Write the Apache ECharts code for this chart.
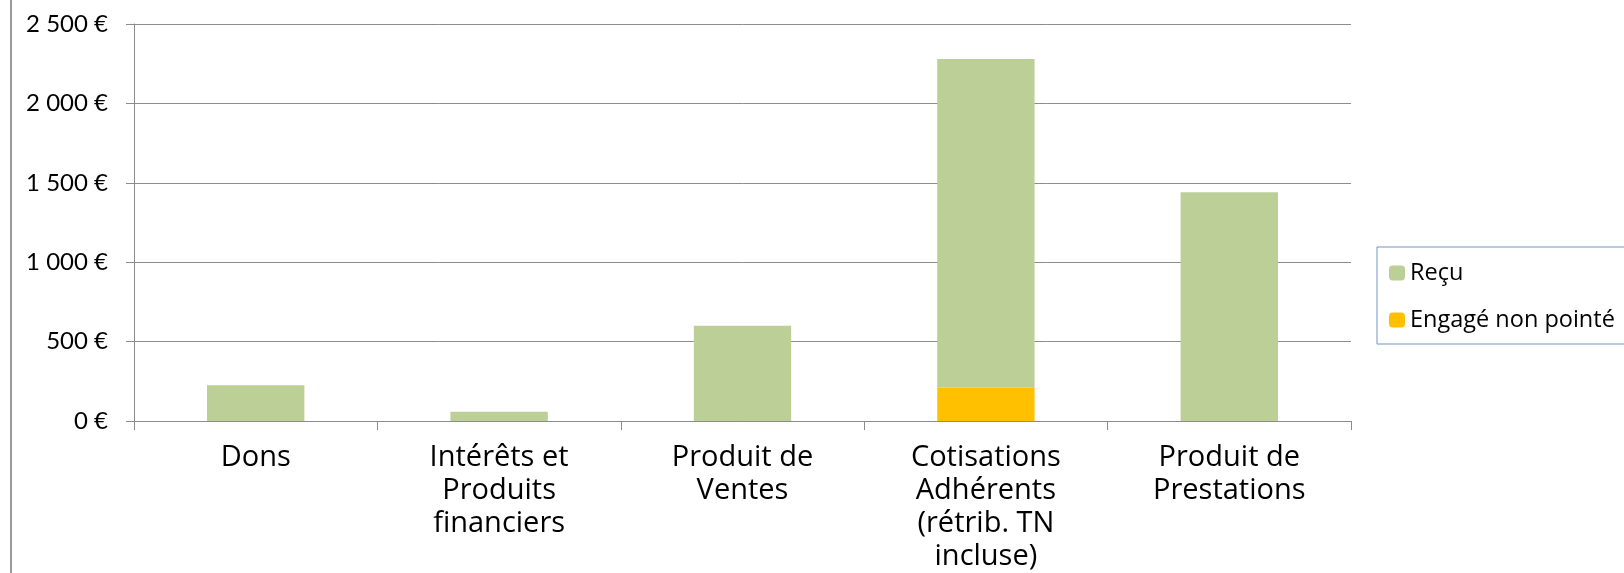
<!DOCTYPE html>
<html>
<head>
<meta charset="utf-8">
<script src="https://cdn.jsdelivr.net/npm/echarts@6/dist/echarts.min.js"></script>
<style>
    html, body { margin: 0; padding: 0; background: #fff; }
    #chart { width: 1624px; height: 573px; }
</style>
</head>
<body>
<div id="chart"></div>
<script>
var categories = [
    'Dons',
    'Intérêts et\nProduits\nfinanciers',
    'Produit de\nVentes',
    'Cotisations\nAdhérents\n(rétrib. TN\nincluse)',
    'Produit de\nPrestations'
];
var engageValues = [0, 0, 0, 210, 0];
var recuValues = [225, 58, 600, 2070, 1440];

var fontName = 'Lato';
var wideFont = 'Open Sans';

function euro(v) {
    return String(v).replace(/\B(?=(\d{3})+(?!\d))/g, ' ') + ' €';
}

var chart = echarts.init(document.getElementById('chart'));

var option = {
    backgroundColor: '#ffffff',
    animation: false,
    textStyle: {
        fontFamily: fontName
    },
    legend: {
        orient: 'vertical',
        left: 1377,
        top: 247,
        padding: [14, 40, 12, 12],
        itemGap: 23,
        itemWidth: 16,
        itemHeight: 15,
        borderColor: '#7094cc',
        borderWidth: 1,
        data: ['Reçu', 'Engagé non pointé'],
        textStyle: {
            color: '#000',
            fontSize: 23.5,
            fontFamily: wideFont,
            padding: [0, 0, 0, 0]
        }
    },
    grid: {
        left: 134,
        right: 273,
        top: 24,
        bottom: 150
    },
    xAxis: {
        type: 'category',
        data: categories,
        axisLine: {
            lineStyle: { color: '#8c8c8c', width: 1 }
        },
        axisTick: {
            show: true,
            length: 9,
            lineStyle: { color: '#8c8c8c' }
        },
        axisLabel: {
            interval: 0,
            margin: 20,
            color: '#000',
            fontSize: 29,
            lineHeight: 33,
            fontFamily: wideFont
        }
    },
    yAxis: {
        type: 'value',
        min: 0,
        max: 2500,
        interval: 500,
        axisLine: {
            show: true,
            lineStyle: { color: '#8c8c8c', width: 1 }
        },
        axisTick: {
            show: true,
            length: 8,
            lineStyle: { color: '#8c8c8c' }
        },
        splitLine: {
            lineStyle: { color: '#8c8c8c', width: 1 }
        },
        axisLabel: {
            margin: 26,
            color: '#000',
            fontSize: 24,
            fontFamily: fontName,
            formatter: euro
        }
    },
    series: [
        {
            name: 'Engagé non pointé',
            type: 'bar',
            stack: 'total',
            barWidth: '40%',
            data: engageValues,
            itemStyle: { color: '#ffc000' }
        },
        {
            name: 'Reçu',
            type: 'bar',
            stack: 'total',
            barWidth: '40%',
            data: recuValues,
            itemStyle: { color: '#bbcf97' }
        }
    ],
    graphic: [
        {
            type: 'line',
            shape: { x1: 11, y1: 0, x2: 11, y2: 573 },
            style: { stroke: '#9a9a9a', lineWidth: 2 }
        }
    ]
};

chart.setOption(option);
</script>
</body>
</html>
